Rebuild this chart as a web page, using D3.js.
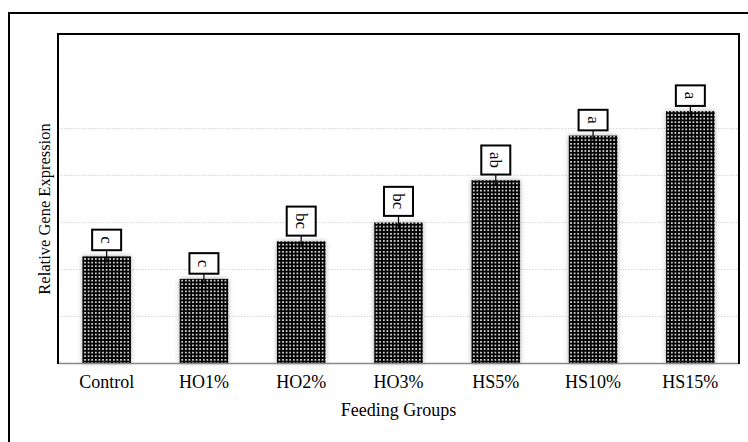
<!DOCTYPE html>
<html>
<head>
<meta charset="utf-8">
<script src="https://cdnjs.cloudflare.com/ajax/libs/d3/7.8.5/d3.min.js"></script>
<style>
  body { margin: 0; background: #fff; }
  svg { display: block; font-family: "Liberation Serif", "Times New Roman", serif; }
</style>
</head>
<body>
<svg id="chart" width="748" height="442"></svg>
<script>
var groups = ["Control", "HO1%", "HO2%", "HO3%", "HS5%", "HS10%", "HS15%"];
var expression = [2.27, 1.79, 2.59, 2.99, 3.89, 4.84, 5.36];
var errors = [0.13, 0.11, 0.12, 0.14, 0.12, 0.11, 0.11];
var letters = ["c", "c", "bc", "bc", "ab", "a", "a"];
var gridTicks = [1, 2, 3, 4, 5];

var margin = {top: 34, right: 9, bottom: 78, left: 58},
    width = 748 - margin.left - margin.right,
    height = 442 - margin.top - margin.bottom;

var svg = d3.select("#chart");

// dotted fill like the original
var defs = svg.append("defs");
var pat = defs.append("pattern")
    .attr("id", "dots")
    .attr("patternUnits", "userSpaceOnUse")
    .attr("width", 3.6)
    .attr("height", 3.6);
pat.append("rect").attr("width", 3.6).attr("height", 3.6).attr("fill", "#000");
pat.append("circle").attr("cx", 1.8).attr("cy", 1.8).attr("r", 0.95).attr("fill", "#fff");

var shadow = defs.append("filter")
    .attr("id", "glow")
    .attr("x", "-30%").attr("y", "-10%")
    .attr("width", "160%").attr("height", "120%");
shadow.append("feDropShadow")
    .attr("dx", 0).attr("dy", 0)
    .attr("stdDeviation", 2.5)
    .attr("flood-color", "#777")
    .attr("flood-opacity", 0.6);

// outer frame
svg.append("rect")
    .attr("x", 9).attr("y", 13)
    .attr("width", 760).attr("height", 460)
    .attr("fill", "none")
    .attr("stroke", "#000")
    .attr("stroke-width", 2);

var g = svg.append("g")
    .attr("transform", "translate(" + margin.left + "," + margin.top + ")");

var x = d3.scaleBand()
    .domain(groups)
    .range([0, width])
    .paddingInner(0.5)
    .paddingOuter(0.25);

var y = d3.scaleLinear()
    .domain([0, 7])
    .range([height - 1, 0]);

// faint gridlines
g.append("g")
    .attr("class", "grid")
    .call(d3.axisLeft(y).tickValues(gridTicks).tickSize(-width).tickFormat(""))
    .call(function(s) {
      s.select(".domain").remove();
      s.selectAll("line")
          .attr("stroke", "#d4d4d4")
          .attr("stroke-dasharray", "1.5,1.5");
    });

// bars
g.selectAll(".bar")
    .data(groups)
  .enter().append("rect")
    .attr("class", "bar")
    .attr("x", function(d) { return x(d); })
    .attr("width", x.bandwidth())
    .attr("y", function(d, i) { return y(expression[i]); })
    .attr("height", function(d, i) { return y(0) - y(expression[i]); })
    .attr("fill", "url(#dots)")
    .attr("filter", "url(#glow)");

// error bars
g.selectAll(".err")
    .data(groups)
  .enter().append("line")
    .attr("class", "err")
    .attr("x1", function(d) { return x(d) + x.bandwidth() / 2; })
    .attr("x2", function(d) { return x(d) + x.bandwidth() / 2; })
    .attr("y1", function(d, i) { return y(expression[i] + errors[i]); })
    .attr("y2", function(d, i) { return y(expression[i] - errors[i]); })
    .attr("stroke", "#000")
    .attr("stroke-width", 1.2);

// letter boxes
var lab = g.selectAll(".lab")
    .data(groups)
  .enter().append("g")
    .attr("class", "lab");

lab.append("text")
    .attr("font-size", 17)
    .attr("text-anchor", "middle")
    .attr("dominant-baseline", "central")
    .text(function(d, i) { return letters[i]; });

lab.each(function(d, i) {
  var sel = d3.select(this);
  var len = sel.select("text").node().getComputedTextLength();
  var bw = 29, bh = len + 13;
  var cx = x(d) + x.bandwidth() / 2;
  var bottom = y(expression[i] + errors[i]);
  sel.insert("rect", "text")
      .attr("x", cx - bw / 2)
      .attr("y", bottom - bh)
      .attr("width", bw)
      .attr("height", bh)
      .attr("fill", "#fff")
      .attr("stroke", "#000")
      .attr("stroke-width", 2);
  sel.select("text")
      .attr("transform", "translate(" + cx + "," + (bottom - bh / 2) + ") rotate(90)");
});

// x axis
g.append("g")
    .attr("transform", "translate(0," + (height - 1) + ")")
    .call(d3.axisBottom(x).tickSize(0).tickPadding(12))
    .call(function(s) {
      s.select(".domain").attr("stroke", "#888").attr("stroke-width", 1.5);
      s.selectAll("text")
          .attr("font-family", "Liberation Serif, Times New Roman, serif")
          .attr("font-size", 18)
          .attr("fill", "#000");
    });

// plot frame (left, top, right)
g.append("path")
    .attr("d", "M0," + height + "V0H" + width + "V" + height)
    .attr("fill", "none")
    .attr("stroke", "#000")
    .attr("stroke-width", 2);

// titles
svg.append("text")
    .attr("x", margin.left + width / 2)
    .attr("y", 416)
    .attr("text-anchor", "middle")
    .attr("font-size", 18)
    .text("Feeding Groups");

svg.append("text")
    .attr("transform", "translate(50,209) rotate(-90)")
    .attr("text-anchor", "middle")
    .attr("font-size", 16.5)
    .text("Relative Gene Expression");
</script>
</body>
</html>
